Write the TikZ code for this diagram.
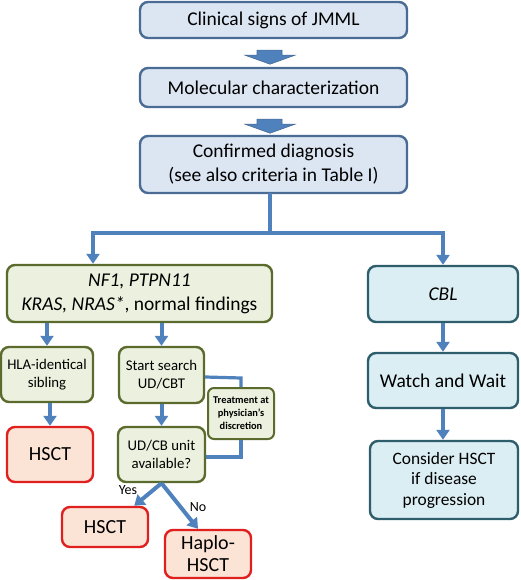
\documentclass[tikz,border=0pt]{standalone}
\usepackage{fontspec}
\setmainfont{Carlito}
\usetikzlibrary{arrows.meta,calc}
\definecolor{bluefill}{HTML}{DCE6F2}
\definecolor{blueline}{HTML}{4A6B94}
\definecolor{greenfill}{HTML}{EBF1DE}
\definecolor{greenline}{HTML}{5B6B2E}
\definecolor{redfill}{HTML}{FBE3D6}
\definecolor{redline}{HTML}{E0201E}
\definecolor{cyanfill}{HTML}{DBEEF4}
\definecolor{cyanline}{HTML}{2E5E6B}
\definecolor{arrowblue}{HTML}{4F81BD}
\tikzset{
  box/.style={rounded corners=8pt, line width=2.4pt, align=center, inner sep=1pt},
  topbox/.style={box, draw=blueline, fill=bluefill, font=\fontsize{19.5}{24}\selectfont},
  greenbox/.style={box, draw=greenline, fill=greenfill},
  redbox/.style={box, draw=redline, fill=redfill, font=\fontsize{20}{24}\selectfont},
  cyanbox/.style={box, draw=cyanline, fill=cyanfill},
  conn/.style={draw=arrowblue, line width=4pt, -{Triangle[width=13pt,length=10pt]}},
  link/.style={draw=arrowblue, line width=3.2pt},
  blockarrow/.style={fill=arrowblue, draw=blueline, line width=0.6pt},
  lbl/.style={font=\fontsize{14}{16}\selectfont, inner sep=0pt}
}
\begin{document}
\begin{tikzpicture}[x=1pt,y=-1pt]
\useasboundingbox (0,0) rectangle (520,580);
% top column
\node[topbox, minimum width=267pt, minimum height=36pt] (clin) at (273.5,20) {Clinical signs of JMML};
\node[topbox, minimum width=267pt, minimum height=39pt] (mol) at (273.5,87.5) {Molecular characterization};
\node[topbox, minimum width=267pt, minimum height=57pt] (conf) at (273.5,164.5) {Confirmed diagnosis\\(see also criteria in Table I)};
% block arrows
\foreach \a/\b in {clin/11, mol/11}{
  \filldraw[blockarrow] ($(\a.south)+(-16.5,\b)$) -- ($(\a.south)+(8.5,\b)$) -- ($(\a.south)+(8.5,\b+5)$) -- ($(\a.south)+(21.5,\b+5)$) -- ($(\a.south)+(-3.5,\b+14)$) -- ($(\a.south)+(-28.5,\b+5)$) -- ($(\a.south)+(-16.5,\b+5)$) -- cycle;
}
% second level
\node[greenbox, minimum width=265pt, minimum height=57pt, font=\fontsize{19.5}{24}\selectfont] (gen) at (139.5,293.5) {\textit{NF1, PTPN11}\\\textit{KRAS, NRAS*}, normal findings};
\node[cyanbox, minimum width=150pt, minimum height=56pt, font=\fontsize{19.5}{24}\selectfont] (cbl) at (443,294) {\textit{CBL}};
% junction
\coordinate (jl) at (93,233);
\coordinate (jr) at (443,233);
\coordinate (jc) at (270,233);
\draw[link] (270,193) -- (jc);
\draw[link, line cap=rect] (jl) -- (jr);
\draw[conn] (jl) -- (jl |- gen.north);
\draw[conn] (jr) -- (cbl.north);
% left branch
\node[greenbox, minimum width=92pt, minimum height=55pt, font=\fontsize{14.8}{18}\selectfont] (hla) at (47,374.5) {HLA-identical\\sibling};
\node[greenbox, minimum width=85pt, minimum height=56pt, font=\fontsize{14.8}{18}\selectfont] (start) at (161.5,375) {Start search\\UD/CBT};
\node[greenbox, minimum width=66pt, minimum height=51pt, line width=2pt, rounded corners=6pt, inner sep=0pt, font=\bfseries\fontsize{10.4}{13}\selectfont] (treat) at (241,413.5) {Treatment at\\physician’s\\discretion};
\node[redbox, minimum width=86pt, minimum height=55pt] (hsct1) at (50,454.5) {HSCT};
\node[greenbox, minimum width=87pt, minimum height=55pt, font=\fontsize{14.8}{18}\selectfont] (udcb) at (161.5,454.5) {UD/CB unit\\available?};
\node[redbox, minimum width=86pt, minimum height=40pt] (hsct2) at (105,527) {HSCT};
\node[redbox, minimum width=86pt, minimum height=48pt, font=\fontsize{20}{22}\selectfont] (haplo) at (208,554) {Haplo-\\HSCT};
\draw[conn] (hla.south -| 50,0) -- (hsct1.north);
\draw[conn] (gen.south -| hla.north) -- (hla.north);
\draw[conn] (gen.south -| start.north) -- (start.north);
\draw[conn] (start.south) -- (udcb.north);
\draw[link] ($(start.east)+(0,2)$) -- ($(treat.north)+(0,-9)$) -- (treat.north);
\draw[link] (treat.south) -- ($(treat.south |- udcb.east)+(0,2.5)$) -- ($(udcb.east)+(0,2.5)$);
\draw[conn] (udcb.south) -- ($(hsct2.north east)+(-15,0)$);
\draw[conn] (udcb.south) -- ($(haplo.north)+(-10,0)$);
\node[lbl] (yes) at (128,490) {Yes};
\node[lbl] (no) at (198,507) {No};
% right branch
\node[cyanbox, minimum width=150pt, minimum height=55pt, font=\fontsize{19.5}{24}\selectfont] (watch) at (443,380.5) {Watch and Wait};
\node[cyanbox, minimum width=148pt, minimum height=78pt, font=\fontsize{17.4}{20.5}\selectfont] (cons) at (444,480) {Consider HSCT\\if disease\\progression};
\draw[conn] (cbl.south) -- (watch.north);
\draw[conn] (watch.south) -- (watch.south |- cons.north);
\end{tikzpicture}
\end{document}
